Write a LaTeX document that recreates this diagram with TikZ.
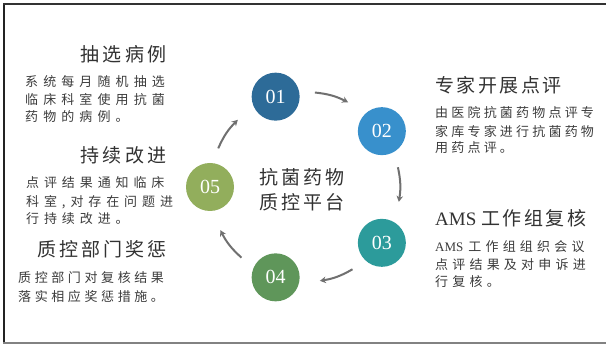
\documentclass[tikz,border=0pt]{standalone}
\usepackage{fontspec}
\setmainfont{Liberation Serif}
\newfontfamily\cjk{Noto Sans CJK SC}
\usetikzlibrary{arrows.meta,calc}
\definecolor{c1}{RGB}{45,107,152}
\definecolor{c2}{RGB}{56,144,204}
\definecolor{c3}{RGB}{44,155,155}
\definecolor{c4}{RGB}{95,150,90}
\definecolor{c5}{RGB}{146,174,92}
\definecolor{titlec}{RGB}{50,50,50}
\definecolor{bodyc}{RGB}{60,60,60}
\definecolor{arrc}{RGB}{112,112,112}
\newlength\chsp
\def\trackit#1#2{\setlength\chsp{#1}\trackiti#2\relax\unskip}
\def\trackiti#1{\ifx\relax#1\else#1\hskip\chsp\expandafter\trackiti\fi}
\begin{document}
\begin{tikzpicture}[x=1pt,y=1pt,
  ttl/.style={inner sep=0, font=\cjk\fontsize{19}{19}\selectfont, text=titlec},
  bdy/.style={inner sep=0, anchor=west, font=\cjk\fontsize{13}{13}\selectfont, text=bodyc},
  numc/.style={circle, minimum size=48pt, inner sep=0, text=white, font=\rmfamily\fontsize{20}{20}\selectfont},
  arrw/.style={draw=arrc, line width=2pt, -{Stealth[length=6pt,width=6.5pt]}},
  ctr/.style={inner sep=0, align=center, font=\cjk\fontsize{19}{25}\selectfont, text=titlec}]
\useasboundingbox (0,0) rectangle (606,345);
\fill[white] (0,0) rectangle (606,345);
% frame
\draw[line width=2.5pt, color={rgb,255:red,35;green,35;blue,35}] (4,2) -- (4,341.5);
\draw[line width=2pt, color={rgb,255:red,50;green,50;blue,50}] (3,341) -- (606,341);
\draw[line width=1.5pt, color={rgb,255:red,130;green,130;blue,130}] (3,2) -- (606,2);
% circles
\coordinate (c) at (305,158);
\node[numc, fill=c1] (n1) at ($(c)+(108:95)$) {01};
\node[numc, fill=c2] (n2) at ($(c)+(36:95)$) {02};
\node[numc, fill=c3] (n3) at ($(c)+(-36:95)$) {03};
\node[numc, fill=c4] (n4) at ($(c)+(-108:95)$) {04};
\node[numc, fill=c5] (n5) at ($(c)+(180:95)$) {05};
% arrows
\coordinate (s1) at ($(c)+(84:95)$);   \coordinate (e1) at ($(c)+(63:95)$);
\coordinate (s2) at ($(c)+(12:95)$);   \coordinate (e2) at ($(c)+(-9:95)$);
\coordinate (s3) at ($(c)+(-60:95)$);  \coordinate (e3) at ($(c)+(-81:95)$);
\coordinate (s4) at ($(c)+(-132:95)$); \coordinate (e4) at ($(c)+(-153:95)$);
\coordinate (s5) at ($(c)+(156:95)$);  \coordinate (e5) at ($(c)+(135:95)$);
\draw[arrw] (s1) to[bend left=10.5] (e1);
\draw[arrw] (s2) to[bend left=10.5] (e2);
\draw[arrw] (s3) to[bend left=10.5] (e3);
\draw[arrw] (s4) to[bend left=10.5] (e4);
\draw[arrw] (s5) to[bend left=10.5] (e5);
% centre
\node[ctr] (ct) at (302,155) {\trackit{2.7pt}{抗菌药物}\\\trackit{2.7pt}{质控平台}};
% left blocks
\node[ttl, anchor=east] (t1) at (167,291) {\trackit{3.5pt}{抽选病例}};
\node[bdy] (b1a) at (25,263) {\trackit{5.1pt}{系统每月随机抽选}};
\node[bdy] (b1b) at (25,245) {\trackit{5.1pt}{临床科室使用抗菌}};
\node[bdy] (b1c) at (25,228) {\trackit{5.1pt}{药物的病例。}};
\node[ttl, anchor=east] (t2) at (167,190) {\trackit{3.5pt}{持续改进}};
\node[bdy] (b2a) at (26,162) {\trackit{4.9pt}{点评结果通知临床}};
\node[bdy] (b2b) at (26,143) {\trackit{4.9pt}{科室,对存在问题进}};
\node[bdy] (b2c) at (26,126) {\trackit{4.9pt}{行持续改进。}};
\node[ttl, anchor=east] (t3) at (167,96) {\trackit{3.1pt}{质控部门奖惩}};
\node[bdy] (b3a) at (18,67) {\trackit{3.6pt}{质控部门对复核结果}};
\node[bdy] (b3b) at (18,48) {\trackit{3.6pt}{落实相应奖惩措施。}};
% right blocks
\node[ttl, anchor=west] (t4) at (435,260) {\trackit{2.5pt}{专家开展点评}};
\node[bdy] (b4a) at (435,232) {\trackit{3.2pt}{由医院抗菌药物点评专}};
\node[bdy] (b4b) at (435,213) {\trackit{3.2pt}{家库专家进行抗菌药物}};
\node[bdy] (b4c) at (435,197) {\trackit{3.2pt}{用药点评。}};
\node[ttl, anchor=west] (t5) at (435,127) {{\rmfamily AMS}\hskip5pt\trackit{2.5pt}{工作组复核}};
\node[bdy] (b5a) at (435,98) {{\rmfamily AMS}\hskip5pt\trackit{4.2pt}{工作组组织会议}};
\node[bdy] (b5b) at (435,80) {\trackit{4.2pt}{点评结果及对申诉进}};
\node[bdy] (b5c) at (435,63) {\trackit{4.2pt}{行复核。}};
\end{tikzpicture}
\end{document}
